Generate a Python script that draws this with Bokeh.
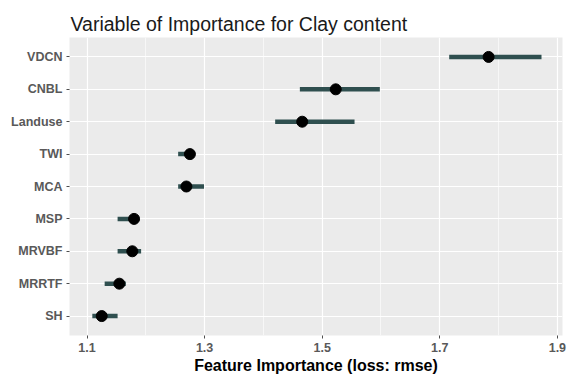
from bokeh.plotting import figure
from bokeh.models import FactorRange, Range1d, FixedTicker, ColumnDataSource
from bokeh.embed import file_html
from bokeh.resources import INLINE

features = ["VDCN", "CNBL", "Landuse", "TWI", "MCA", "MSP", "MRVBF", "MRRTF", "SH"]
importance = [1.783, 1.523, 1.466, 1.275, 1.269, 1.180, 1.177, 1.155, 1.125]
lower = [1.716, 1.462, 1.420, 1.255, 1.255, 1.152, 1.152, 1.130, 1.109]
upper = [1.873, 1.598, 1.555, 1.283, 1.299, 1.188, 1.192, 1.166, 1.152]
x_ticks = [1.1, 1.3, 1.5, 1.7, 1.9]
x_minor = [1.2, 1.4, 1.6, 1.8]

order = list(reversed(features))

src = ColumnDataSource(dict(f=features, imp=importance, lo=lower, hi=upper))

p = figure(width=567, height=381, output_backend="svg", toolbar_location=None,
           y_range=FactorRange(factors=order, range_padding=0.2 / 9),
           x_range=Range1d(1.0702, 1.9087),
           min_border_left=69, min_border_right=5, min_border_top=37, min_border_bottom=46)

p.title.text = "Variable of Importance for Clay content"
p.title.text_font = "Liberation Sans"
p.title.text_font_size = "19.5px"
p.title.text_font_style = "normal"
p.title.text_color = "#1a1a1a"
p.title.offset = 1
p.title.standoff = 5

p.background_fill_color = "#EBEBEB"
p.border_fill_color = "white"
p.outline_line_color = None

p.segment(x0="lo", x1="hi", y0="f", y1="f", source=src, line_color="#2F4F4F", line_width=4.5)
p.scatter(x="imp", y="f", source=src, size=11, fill_color="black", line_color="black")

p.xaxis.ticker = FixedTicker(ticks=x_ticks, minor_ticks=x_minor)
p.xgrid.grid_line_color = "white"
p.xgrid.grid_line_width = 1.2
p.xgrid.minor_grid_line_color = "white"
p.xgrid.minor_grid_line_width = 0.6
p.ygrid.grid_line_color = "white"
p.ygrid.grid_line_width = 1.2

for ax in (p.xaxis, p.yaxis):
    ax.axis_line_color = None
    ax.major_tick_line_color = "#4D4D4D"
    ax.major_tick_out = 3
    ax.major_tick_in = 0
    ax.minor_tick_line_color = None
    ax.major_label_text_font = "Liberation Sans"
    ax.major_label_text_font_style = "bold"
    ax.major_label_text_color = "#595959"
    ax.major_label_text_font_size = "12.5px"
    ax.major_label_standoff = 4

p.xaxis.major_label_standoff = 3
p.xaxis.axis_label = "Feature Importance (loss: rmse)"
p.xaxis.axis_label_text_font = "Liberation Sans"
p.xaxis.axis_label_text_font_style = "bold"
p.xaxis.axis_label_text_font_size = "16px"
p.xaxis.axis_label_text_color = "black"
p.xaxis.axis_label_standoff = 2

open("out.html", "w").write(file_html(p, INLINE))
